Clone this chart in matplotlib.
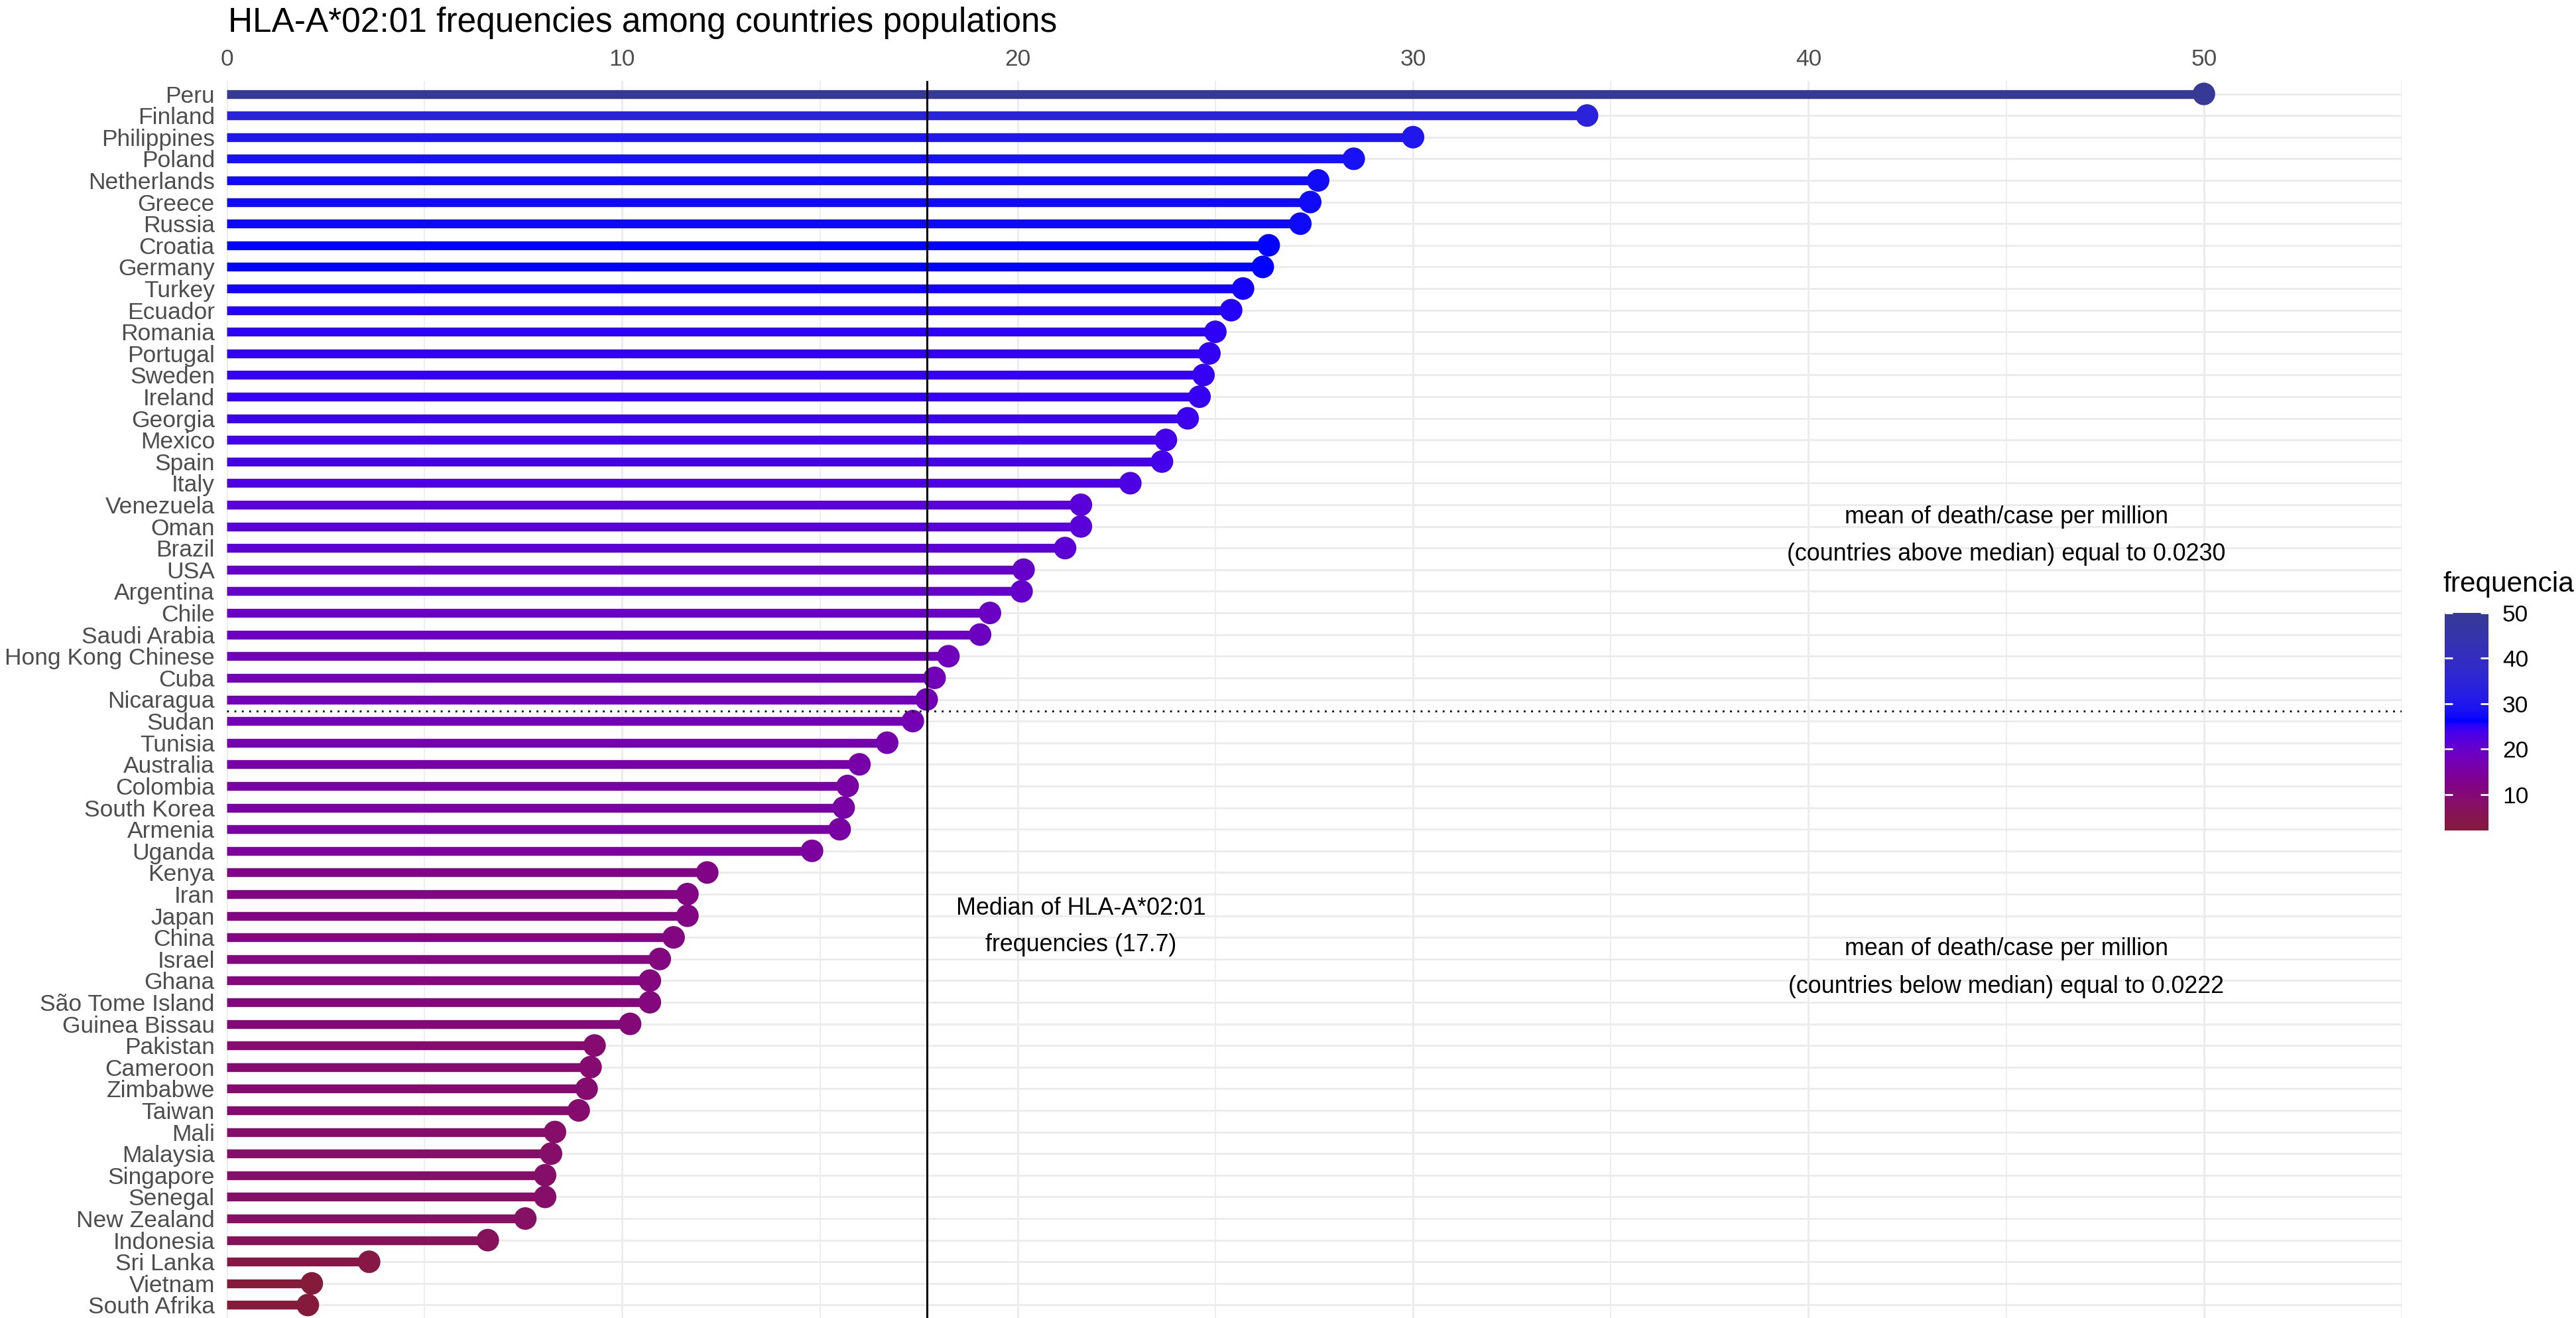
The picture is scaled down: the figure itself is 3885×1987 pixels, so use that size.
import numpy as np
import matplotlib
matplotlib.use("Agg")
import matplotlib.pyplot as plt
from matplotlib.colors import ListedColormap, Normalize, to_rgb
from matplotlib.cm import ScalarMappable

plt.rcParams['font.family'] = ['Liberation Sans', 'DejaVu Sans']

# HLA-A*02:01 allele frequency per country
countries = ["Peru", "Finland", "Philippines", "Poland", "Netherlands", "Greece",
             "Russia", "Croatia", "Germany", "Turkey", "Ecuador", "Romania",
             "Portugal", "Sweden", "Ireland", "Georgia", "Mexico", "Spain", "Italy",
             "Venezuela", "Oman", "Brazil", "USA", "Argentina", "Chile",
             "Saudi Arabia", "Hong Kong Chinese", "Cuba", "Nicaragua", "Sudan",
             "Tunisia", "Australia", "Colombia", "South Korea", "Armenia", "Uganda",
             "Kenya", "Iran", "Japan", "China", "Israel", "Ghana", "São Tome Island",
             "Guinea Bissau", "Pakistan", "Cameroon", "Zimbabwe", "Taiwan", "Mali",
             "Malaysia", "Singapore", "Senegal", "New Zealand", "Indonesia",
             "Sri Lanka", "Vietnam", "South Afrika"]
freq = [50.0, 34.4, 30.0, 28.5, 27.6, 27.4,
        27.15, 26.35, 26.2, 25.7, 25.4, 25.0,
        24.85, 24.7, 24.6, 24.3, 23.75, 23.65, 22.85,
        21.6, 21.6, 21.2, 20.15, 20.1, 19.3,
        19.05, 18.25, 17.9, 17.7, 17.35,
        16.7, 16.0, 15.7, 15.6, 15.5, 14.8,
        12.15, 11.65, 11.65, 11.3, 10.95, 10.7, 10.7,
        10.2, 9.3, 9.2, 9.1, 8.9, 8.3,
        8.2, 8.05, 8.05, 7.55, 6.6,
        3.6, 2.15, 2.05]

gradient_colours = ["#851b3a", "#0000ff", "#363995"]
mean_above = 0.0230
mean_below = 0.0222

freq = np.array(freq)
n = len(countries)
pos = np.arange(n)[::-1]
med = np.median(freq)

# colour gradient interpolated in CIE Lab, like ggplot does
M = np.array([[0.4124, 0.3576, 0.1805],
              [0.2126, 0.7152, 0.0722],
              [0.0193, 0.1192, 0.9505]])
WHITE = np.array([0.95047, 1.0, 1.08883])


def rgb_to_lab(rgb):
    rgb = np.asarray(rgb, float)
    lin = np.where(rgb <= 0.04045, rgb / 12.92, ((rgb + 0.055) / 1.055) ** 2.4)
    xyz = lin @ M.T / WHITE
    f = np.where(xyz > (6 / 29) ** 3, np.cbrt(xyz), xyz / (3 * (6 / 29) ** 2) + 4 / 29)
    L = 116 * f[..., 1] - 16
    a = 500 * (f[..., 0] - f[..., 1])
    b = 200 * (f[..., 1] - f[..., 2])
    return np.stack([L, a, b], -1)


def lab_to_rgb(lab):
    fy = (lab[..., 0] + 16) / 116
    fx = fy + lab[..., 1] / 500
    fz = fy - lab[..., 2] / 200
    f = np.stack([fx, fy, fz], -1)
    xyz = np.where(f > 6 / 29, f ** 3, 3 * (6 / 29) ** 2 * (f - 4 / 29)) * WHITE
    lin = np.clip(xyz @ np.linalg.inv(M).T, 0, 1)
    rgb = np.where(lin <= 0.0031308, 12.92 * lin, 1.055 * lin ** (1 / 2.4) - 0.055)
    return np.clip(rgb, 0, 1)


stop_lab = rgb_to_lab([to_rgb(c) for c in gradient_colours])
stops = np.linspace(0, 1, len(gradient_colours))
grid = np.linspace(0, 1, 256)
lab = np.stack([np.interp(grid, stops, stop_lab[:, k]) for k in range(3)], -1)
cmap = ListedColormap(lab_to_rgb(lab))
norm = Normalize(vmin=freq.min(), vmax=freq.max())
cols = cmap(norm(freq))

W, H = 3885, 1987
fig = plt.figure(figsize=(W / 100, H / 100), dpi=100)
ax = fig.add_axes([342 / W, 0, (3622 - 342) / W, 1 - 122 / H])

ax.hlines(pos, 0, freq, colors=cols, linewidth=9.6, capstyle='butt', zorder=2)
ax.scatter(freq, pos, c=cols, s=600, linewidths=0, zorder=3)

ax.axvline(med, color='black', linewidth=2.2, zorder=4)
ax.axhline(27.45, color='black', linewidth=2.0, linestyle=(0, (1, 3)), zorder=4)

ax.set_xlim(0, 55)
ax.set_ylim(-0.6, n - 1 + 0.6)
ax.set_xticks(np.arange(0, 51, 10))
ax.set_xticks(np.arange(5, 56, 10), minor=True)
ax.set_yticks(pos)
ax.set_yticklabels(countries)
ax.xaxis.tick_top()
ax.tick_params(axis='both', which='both', length=0, labelsize=25.5, labelcolor='#4d4d4d')
ax.tick_params(axis='x', pad=11.5)
ax.tick_params(axis='y', pad=13)
ax.grid(True, which='major', color='#ebebeb', linewidth=2.0, zorder=0)
ax.grid(True, which='minor', axis='x', color='#ebebeb', linewidth=1.2, zorder=0)
ax.set_axisbelow(True)
for s in ax.spines.values():
    s.set_visible(False)

# annotations
txt = dict(ha='center', va='center', fontsize=25.8, color='black', zorder=5)
ax.text(45, 36.44, "mean of death/case per million", **txt)
ax.text(45, 34.73, f"(countries above median) equal to {mean_above:.4f}", **txt)
ax.text(45, 16.46, "mean of death/case per million", **txt)
ax.text(45, 14.71, f"(countries below median) equal to {mean_below:.4f}", **txt)
ax.text(21.6, 18.35, "Median of HLA-A*02:01", **txt)
ax.text(21.6, 16.66, f"frequencies ({med:.1f})", **txt)

fig.text(344 / W, 1 - 48 / H, "HLA-A*02:01 frequencies among countries populations",
         fontsize=37, ha='left', va='baseline', color='black')

# colour bar legend
cax = fig.add_axes([3687 / W, 1 - 1252 / H, 66 / W, 328 / H])
ticks = [10, 20, 30, 40, 50]
cb = fig.colorbar(ScalarMappable(norm=norm, cmap=cmap), cax=cax, ticks=ticks)
cb.outline.set_visible(False)
cax.tick_params(length=0, pad=15, labelsize=25.5, labelcolor='black')
tr = cax.get_yaxis_transform()
cax.hlines(ticks, 0, 0.18, colors='white', linewidth=2, transform=tr)
cax.hlines(ticks, 0.82, 1, colors='white', linewidth=2, transform=tr)
fig.text(3684 / W, 1 - 881 / H, "frequencia", fontsize=30.5, ha='left', va='center',
         color='black')

fig.savefig("out.png", dpi=100)
